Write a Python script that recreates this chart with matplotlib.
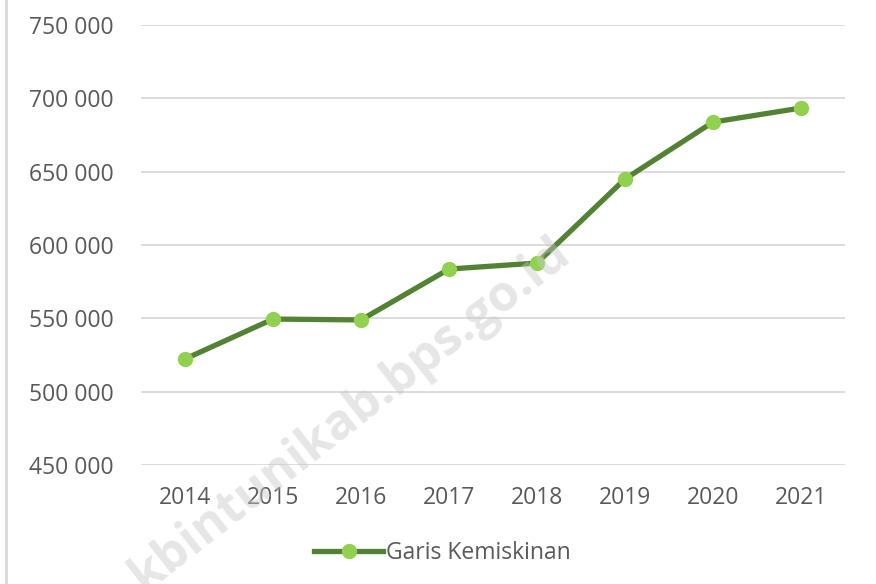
import matplotlib.pyplot as plt
from matplotlib.lines import Line2D
from matplotlib.ticker import FuncFormatter

# Garis Kemiskinan (Rp/kapita/bulan)
years = ["2014", "2015", "2016", "2017", "2018", "2019", "2020", "2021"]
garis_kemiskinan = [522300, 549500, 548900, 583600, 587700, 645000, 683800, 693400]
y_ticks = [450000, 500000, 550000, 600000, 650000, 700000, 750000]

plt.rcParams['font.family'] = ['Open Sans', 'DejaVu Sans']

fig = plt.figure(figsize=(8.76, 5.84), dpi=100)
ax = fig.add_axes([0.161, 0.2038, 0.8036, 0.7534])

x = range(len(years))
ax.plot(x, garis_kemiskinan, color="#548235", linewidth=3.8,
        marker="o", markersize=10, markerfacecolor="#92D050",
        markeredgecolor="#92D050", label="Garis Kemiskinan", zorder=3)

ax.set_xlim(-0.5, len(years) - 0.5)
ax.set_ylim(y_ticks[0], y_ticks[-1])
ax.set_yticks(y_ticks)
ax.yaxis.set_major_formatter(FuncFormatter(lambda v, p: f"{int(v):,}".replace(",", " ")))
ax.set_xticks(list(x))
ax.set_xticklabels(years)

ax.grid(axis="y", color="#d9d9d9", linewidth=1.3)
ax.set_axisbelow(True)
for s in ax.spines.values():
    s.set_visible(False)
ax.tick_params(axis="both", length=0, labelsize=16.5, labelcolor="#595959")
ax.tick_params(axis="y", pad=20)
ax.tick_params(axis="x", pad=15)

leg = ax.legend(loc="center", bbox_to_anchor=(0.505, (584 - 553) / 584),
                bbox_transform=fig.transFigure, frameon=False, fontsize=16.5,
                handlelength=3.0, handletextpad=0.1)
for t in leg.get_texts():
    t.set_color("#595959")

# chart border on the left
fig.add_artist(Line2D([6 / 876, 6 / 876], [0, 1], color="#d9d9d9", linewidth=2))

# watermark
fig.text(350 / 876, 1 - 415 / 584, "kbintunikab.bps.go.id", fontsize=36,
         fontweight="bold", color="#c8c8c8", alpha=0.45, rotation=38,
         ha="center", va="center", zorder=0)

fig.savefig("out.png", dpi=100, facecolor="white")
